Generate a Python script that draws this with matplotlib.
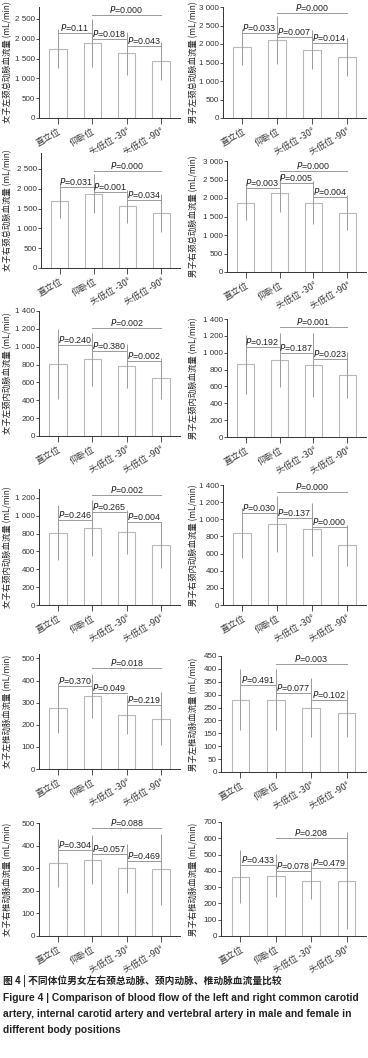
import matplotlib
matplotlib.use("Agg")
import matplotlib.pyplot as plt
from matplotlib.ticker import FuncFormatter, MultipleLocator

plt.rcParams['font.family'] = ['Noto Sans CJK SC', 'DejaVu Sans']

positions = ["直立位", "仰卧位", "头低位 -30°", "头低位 -90°"]

ylabels = [
    "女子左颈总动脉血流量 (mL/min)", "男子左颈总动脉血流量 (mL/min)",
    "女子右颈总动脉血流量 (mL/min)", "男子右颈总动脉血流量 (mL/min)",
    "女子左颈内动脉血流量 (mL/min)", "男子左颈内动脉血流量 (mL/min)",
    "女子右颈内动脉血流量 (mL/min)", "男子右颈内动脉血流量 (mL/min)",
    "女子左椎动脉血流量 (mL/min)", "男子左椎动脉血流量 (mL/min)",
    "女子右椎动脉血流量 (mL/min)", "男子右椎动脉血流量 (mL/min)",
]

means = [
    [1745, 1888, 1636, 1434], [1919, 2108, 1847, 1649],
    [1692, 1877, 1557, 1389], [1877, 2130, 1877, 1606],
    [806, 859, 787, 645], [862, 909, 854, 736],
    [811, 864, 819, 673], [838, 946, 884, 698],
    [278, 330, 246, 228], [281, 281, 250, 227],
    [322, 337, 300, 295], [364, 370, 340, 338],
]

sds = [
    [490, 605, 540, 487], [475, 640, 530, 518],
    [435, 490, 415, 470], [483, 505, 585, 483],
    [392, 295, 245, 230], [350, 320, 375, 268],
    [312, 318, 245, 258], [290, 323, 310, 238],
    [113, 98, 88, 118], [118, 117, 114, 90],
    [107, 108, 108, 156], [163, 131, 113, 298],
]

# p values: (1 vs 2, 2 vs 3, 3 vs 4, 2 vs 4)
pvals = [
    ["0.11", "0.018", "0.043", "0.000"], ["0.033", "0.007", "0.014", "0.000"],
    ["0.031", "0.001", "0.034", "0.000"], ["0.003", "0.005", "0.004", "0.000"],
    ["0.240", "0.380", "0.002", "0.002"], ["0.192", "0.187", "0.023", "0.001"],
    ["0.246", "0.265", "0.004", "0.002"], ["0.030", "0.137", "0.000", "0.000"],
    ["0.370", "0.049", "0.219", "0.018"], ["0.491", "0.077", "0.102", "0.003"],
    ["0.304", "0.057", "0.469", "0.088"], ["0.433", "0.078", "0.479", "0.208"],
]

# heights of the comparison lines, same order
p_heights = [
    [2140, 1997, 1804, 2600], [2288, 2189, 2027, 2838],
    [2037, 1919, 1709, 2441], [2264, 2392, 2031, 2726],
    [1020, 952, 840, 1215], [1063, 992, 921, 1307],
    [953, 1043, 927, 1230], [1070, 1012, 915, 1314],
    [375, 345, 288, 455], [339, 308, 281, 420],
    [381, 362, 332, 478], [436, 399, 419, 600],
]

ylims = [2800, 3000, 2900, 3000, 1400, 1400, 1300, 1400, 520, 450, 500, 700]
ysteps = [500, 500, 500, 500, 200, 200, 200, 200, 100, 50, 100, 100]

# axes boxes in pixels: left, right, y of zero line, y of top
W, H = 368, 1058
boxes = [
    (39, 180, 118, 7), (223, 366, 118, 7),
    (41, 180, 268, 153), (227, 366, 272, 161),
    (39, 180, 436, 311), (227, 366, 437, 319),
    (39, 180, 605, 489), (223, 366, 605, 485),
    (39, 180, 769, 654), (221, 366, 772, 656),
    (39, 180, 936, 823), (221, 366, 936, 822),
]

fig = plt.figure(figsize=(W / 100, H / 100), dpi=100)

num_font = 'Liberation Sans'
gray = '#9a9a9a'
pairs = [(0, 1), (1, 2), (2, 3), (1, 3)]


def fmt(v, pos):
    return f"{int(v):,}".replace(",", " ")


for i in range(12):
    l, r, y0, yt = boxes[i]
    ax = fig.add_axes([l / W, 1 - y0 / H, (r - l) / W, (y0 - yt) / H])
    x = range(4)
    ax.bar(x, means[i], width=0.5, color='white', edgecolor='#b8b8b8', linewidth=0.8, zorder=2)
    ax.errorbar(x, means[i], yerr=sds[i], fmt='none', ecolor=gray, elinewidth=0.7, capsize=0, zorder=3)
    for (a, b), p, h in zip(pairs, pvals[i], p_heights[i]):
        ax.plot([a, b], [h, h], color=gray, lw=0.7, zorder=4)
        ax.text((a + b) / 2, h, "$P$=" + p, ha='center', va='bottom', fontsize=6.4,
                family=num_font, color='#222222', zorder=5)
    ax.set_xlim(-0.55, 3.55)
    ax.set_ylim(0, ylims[i])
    ax.yaxis.set_major_locator(MultipleLocator(ysteps[i]))
    ax.yaxis.set_major_formatter(FuncFormatter(fmt))
    ax.set_xticks(list(x))
    ax.set_xticklabels(positions, rotation=30, ha='right', rotation_mode='anchor',
                       fontsize=6.4, family=['Noto Sans CJK SC', 'DejaVu Sans'])
    for t in ax.get_yticklabels():
        t.set_family(num_font)
        t.set_fontsize(5.8)
    ax.tick_params(axis='y', length=2, width=0.6, pad=1, colors='#333333')
    ax.tick_params(axis='x', length=4, width=0.6, pad=2, colors='#333333')
    ax.spines['top'].set_visible(False)
    ax.spines['right'].set_visible(False)
    for s in ('left', 'bottom'):
        ax.spines[s].set_linewidth(0.7)
        ax.spines[s].set_color('#333333')
    lx = 8 if i % 2 == 0 else 194
    fig.text(lx / W, 1 - (y0 + yt) / 2 / H, ylabels[i], rotation=90, ha='center', va='center',
             fontsize=6.0, color='#222222')

fig.text(3 / W, 1 - 981 / H, "图 4 | 不同体位男女左右颈总动脉、颈内动脉、椎动脉血流量比较",
         fontsize=7.0, fontweight='bold', va='center', ha='left', color='#222222')
cap = ["Figure 4 | Comparison of blood flow of the left and right common carotid",
       "artery, internal carotid artery and vertebral artery in male and female in",
       "different body positions"]
for k, line in enumerate(cap):
    fig.text(3 / W, 1 - (998 + 16 * k) / H, line, fontsize=7.4, fontweight='bold',
             family=num_font, va='center', ha='left', color='#222222')

fig.savefig("out.png", dpi=100)
